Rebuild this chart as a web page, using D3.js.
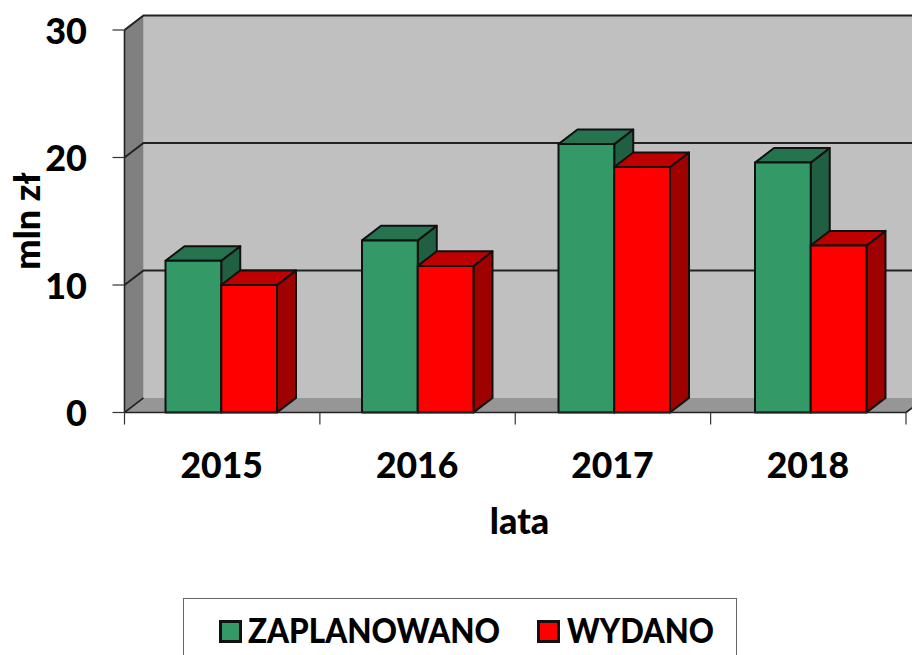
<!DOCTYPE html>
<html><head><meta charset="utf-8">
<script src="https://cdn.jsdelivr.net/npm/d3@7/dist/d3.min.js"></script>
<style>html,body{margin:0;padding:0;background:#fff;overflow:hidden}svg{display:block}text{font-family:Lato,"Open Sans",sans-serif;font-weight:900;fill:#000}</style>
</head><body><svg id="c" width="912" height="655"></svg>
<script>
const years = ["2015","2016","2017","2018"];
const planned = [11.9, 13.5, 21.05, 19.6];
const spent = [10, 11.5, 19.25, 13.1];
const seriesNames = ["ZAPLANOWANO","WYDANO"];
const yTicks = [0,10,20,30];

const svg = d3.select("#c");
const x = d3.scaleBand().domain(years).range([124.5,907.5]).paddingInner(0.4326).paddingOuter(0.2087);
const y = d3.scaleLinear().domain([0,30]).range([412.5,30]);
const inner = d3.scaleBand().domain(seriesNames).range([0,x.bandwidth()]);
const xEdges = d3.scalePoint().domain(d3.range(years.length+1)).range([124.5,906]);
const DX = 19, DY = -14.6;
const x0 = xEdges(0), x1 = xEdges(years.length);
const poly = pts => pts.map(p=>p.join(",")).join(" ");

// walls
svg.append("polygon").attr("points",poly([[x0+DX,y(30)+DY],[930,y(30)+DY],[930,y(0)+DY],[x0+DX,y(0)+DY]])).attr("fill","#c0c0c0");
svg.append("polygon").attr("points",poly([[x0,y(30)],[x0+DX,y(30)+DY],[x0+DX,y(0)+DY],[x0,y(0)]])).attr("fill","#808080");
svg.append("polygon").attr("points",poly([[x0,y(0)],[x0+DX,y(0)+DY],[930,y(0)+DY],[x1,y(0)]])).attr("fill","#969696");

// gridlines
yTicks.filter(t=>t>0).forEach(t=>{
  svg.append("polyline").attr("points",poly([[x0,y(t)],[x0+DX,y(t)+DY],[912,y(t)+DY]]))
    .attr("fill","none").attr("stroke","#222").attr("stroke-width",2);
});
svg.append("line").attr("x1",x0).attr("x2",x0+DX).attr("y1",y(0)).attr("y2",y(0)+DY).attr("stroke","#222").attr("stroke-width",1.6);
svg.append("line").attr("x1",x1).attr("x2",x1+DX).attr("y1",y(0)).attr("y2",y(0)+DY).attr("stroke","#222").attr("stroke-width",1.6);

// bars
const palette = {ZAPLANOWANO:{front:"#339966",top:"#267350",side:"#215f43"},WYDANO:{front:"#ff0000",top:"#bf0000",side:"#9f0000"}};
function bar(year,name,v){
  const l = x(year)+inner(name), r = l+inner.bandwidth(), t = y(v), b = y(0), c = palette[name];
  const g = svg.append("g").attr("stroke","#111").attr("stroke-width",2).attr("stroke-linejoin","round");
  g.append("polygon").attr("points",poly([[r,t],[r+DX,t+DY],[r+DX,b+DY],[r,b]])).attr("fill",c.side);
  g.append("polygon").attr("points",poly([[l,t],[l+DX,t+DY],[r+DX,t+DY],[r,t]])).attr("fill",c.top);
  g.append("rect").attr("x",l).attr("y",t).attr("width",r-l).attr("height",b-t).attr("fill",c.front);
}
years.forEach((yr,i)=>{ bar(yr,seriesNames[0],planned[i]); bar(yr,seriesNames[1],spent[i]); });

// axes
svg.append("line").attr("x1",x0).attr("x2",x0).attr("y1",y(0)).attr("y2",y(30)).attr("stroke","#222").attr("stroke-width",1.6);
svg.append("line").attr("x1",x0).attr("x2",x1).attr("y1",y(0)).attr("y2",y(0)).attr("stroke","#222").attr("stroke-width",1.6);
yTicks.forEach(t=>{
  svg.append("line").attr("x1",x0-12).attr("x2",x0).attr("y1",y(t)).attr("y2",y(t)).attr("stroke","#333").attr("stroke-width",1.2);
  svg.append("text").attr("x",87).attr("y",y(t)+1).attr("dy","0.36em").attr("text-anchor","end").attr("font-size",36).text(t);
});
xEdges.domain().forEach(i=>{
  const tx = xEdges(i);
  svg.append("line").attr("x1",tx).attr("x2",tx).attr("y1",y(0)).attr("y2",y(0)+12).attr("stroke","#333").attr("stroke-width",1.2);
});
years.forEach((yr,i)=>{
  svg.append("text").attr("x",(xEdges(i)+xEdges(i+1))/2-0.5).attr("y",465).attr("dy","0.36em").attr("text-anchor","middle").attr("font-size",35.5).text(yr);
});
svg.append("text").attr("x",519.5).attr("y",521).attr("dy","0.36em").attr("text-anchor","middle").attr("font-size",36).text("lata");
svg.append("text").attr("transform","translate(27,221) rotate(-90)").attr("dy","0.36em").attr("text-anchor","middle").attr("font-size",36).text("mln zł");

// legend
svg.append("rect").attr("x",183.5).attr("y",598.5).attr("width",553).attr("height",70).attr("fill","#fff").attr("stroke","#666").attr("stroke-width",1);
const legendX = [219,537], legendTextX = [248,567], legendTextW = [252,147];
seriesNames.forEach((n,i)=>{
  svg.append("rect").attr("x",legendX[i]+1.5).attr("y",621.5).attr("width",20).attr("height",20).attr("fill",palette[n].front).attr("stroke","#111").attr("stroke-width",3);
  svg.append("text").attr("x",legendTextX[i]).attr("y",631).attr("dy","0.36em").attr("font-size",34)
    .attr("textLength",legendTextW[i]).attr("lengthAdjust","spacingAndGlyphs").text(n);
});
</script></body></html>
